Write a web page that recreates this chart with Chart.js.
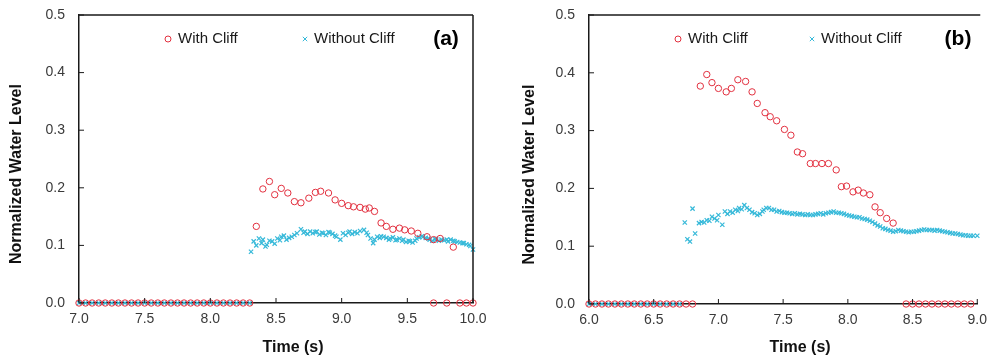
<!DOCTYPE html>
<html lang="en">
<head>
<meta charset="UTF-8">
<title>Normalized Water Level</title>
<script src="https://cdn.jsdelivr.net/npm/chart.js"></script>
<style>
  body { margin: 0; background: #fff; }
  .panel { position: absolute; top: 0; }
</style>
</head>
<body>
<div class="panel" style="left:0"><canvas id="chartA" width="497" height="359"></canvas></div>
<div class="panel" style="left:497px"><canvas id="chartB" width="498" height="359"></canvas></div>
<script>
// ---- panel (a) ----
const timeAWith = [7.00,7.05,7.10,7.15,7.20,7.25,7.30,7.35,7.40,7.45,7.50,7.55,7.60,7.65,7.70,7.75,7.80,7.85,7.90,7.95,8.00,8.05,8.10,8.15,8.20,8.25,8.30,
  8.35,8.40,8.45,8.49,8.54,8.59,8.64,8.69,8.75,8.80,8.84,8.90,8.95,9.00,9.05,9.09,9.14,9.18,9.21,9.25,9.30,9.34,9.39,9.44,9.48,9.53,9.58,9.65,9.70,9.75,9.85,
  9.70,9.80,9.90,9.95,10.00];
const levelAWith = [0,0,0,0,0,0,0,0,0,0,0,0,0,0,0,0,0,0,0,0,0,0,0,0,0,0,0,
  0.133,0.198,0.211,0.188,0.199,0.191,0.176,0.174,0.182,0.192,0.194,0.191,0.179,0.173,0.169,0.167,0.166,0.163,0.165,0.159,0.139,0.133,0.128,0.130,0.127,0.125,0.121,0.115,0.110,0.112,0.097,
  0,0,0,0,0];

const timeAWithout = [7.00,7.05,7.10,7.15,7.20,7.25,7.30,7.35,7.40,7.45,7.50,7.55,7.60,7.65,7.70,7.75,7.80,7.85,7.90,7.95,8.00,8.05,8.10,8.15,8.20,8.25,8.30,
  8.31,8.33,8.35,8.37,8.39,8.40,8.42,8.43,8.45,8.47,8.49,8.51,8.53,8.54,8.56,8.58,8.60,8.62,8.64,8.66,8.69,8.71,8.72,8.74,8.76,8.78,8.80,8.81,8.83,8.85,
  8.86,8.88,8.90,8.91,8.93,8.95,8.96,8.99,9.01,9.03,9.05,9.06,9.08,9.10,9.12,9.14,9.17,9.19,9.20,9.22,9.24,9.25,9.27,9.29,9.30,9.32,9.34,9.36,9.37,9.39,
  9.41,9.42,9.44,9.46,9.47,9.49,9.51,9.52,9.54,9.56,9.57,9.59,9.61,9.62,9.64,9.66,9.67,9.69,9.71,9.72,9.74,9.76,9.78,9.80,9.81,9.83,9.85,9.86,9.88,9.90,
  9.92,9.93,9.95,9.97,9.98,10.00];
const levelAWithout = [0,0,0,0,0,0,0,0,0,0,0,0,0,0,0,0,0,0,0,0,0,0,0,0,0,0,0,
  0.089,0.107,0.100,0.112,0.104,0.110,0.098,0.101,0.108,0.107,0.103,0.112,0.109,0.115,0.117,0.110,0.113,0.115,0.118,0.121,0.128,0.122,0.124,0.120,0.124,0.121,0.123,0.124,0.119,0.122,
  0.121,0.118,0.123,0.122,0.120,0.117,0.115,0.110,0.121,0.118,0.122,0.124,0.120,0.123,0.121,0.125,0.127,0.122,0.118,0.112,0.104,0.110,0.115,0.113,0.116,0.115,0.113,0.110,0.112,0.114,
  0.109,0.110,0.112,0.108,0.110,0.106,0.108,0.107,0.105,0.108,0.112,0.114,0.116,0.115,0.113,0.112,0.110,0.108,0.111,0.110,0.108,0.110,0.109,0.110,0.107,0.110,0.108,0.107,0.106,0.105,
  0.104,0.104,0.102,0.101,0.099,0.093];

// ---- panel (b) ----
const timeBWith = [6.00,6.05,6.10,6.15,6.20,6.25,6.30,6.35,6.40,6.45,6.50,6.55,6.60,6.65,6.70,6.75,6.80,
  6.86,6.91,6.95,7.00,7.06,7.10,7.15,7.21,7.26,7.30,7.36,7.40,7.45,7.51,7.56,7.61,7.65,7.71,7.75,7.80,7.85,7.91,7.95,7.99,8.04,8.08,8.12,8.17,8.21,8.25,8.30,8.35,
  8.45,8.50,8.55,8.60,8.65,8.70,8.75,8.80,8.85,8.90,8.95];
const levelBWith = [0,0,0,0,0,0,0,0,0,0,0,0,0,0,0,0,0,
  0.377,0.397,0.383,0.373,0.367,0.373,0.388,0.385,0.367,0.347,0.331,0.324,0.317,0.302,0.292,0.263,0.260,0.243,0.243,0.243,0.243,0.232,0.203,0.204,0.194,0.197,0.192,0.189,0.168,0.158,0.148,0.140,
  0,0,0,0,0,0,0,0,0,0,0];

const timeBWithout = [6.00,6.05,6.10,6.15,6.20,6.25,6.30,6.35,6.40,6.45,6.50,6.55,6.60,6.65,6.70,
  6.74,6.76,6.78,6.80,6.82,6.85,6.87,6.89,6.91,6.93,6.95,6.97,6.99,7.00,7.03,7.05,7.07,7.09,7.11,7.13,7.15,7.16,7.18,7.20,7.22,7.24,7.26,7.28,7.30,7.32,
  7.34,7.35,7.37,7.39,7.41,7.43,7.45,7.47,7.49,7.51,7.53,7.55,7.57,7.59,7.61,7.63,7.65,7.67,7.69,7.71,7.73,7.75,7.77,7.79,7.81,7.83,7.85,7.87,7.89,7.91,
  7.93,7.95,7.97,7.99,8.01,8.03,8.05,8.07,8.09,8.11,8.13,8.15,8.17,8.19,8.21,8.23,8.25,8.27,8.29,8.31,8.33,8.35,8.37,8.39,8.41,8.43,8.45,8.47,8.49,8.51,
  8.53,8.55,8.57,8.59,8.61,8.63,8.65,8.67,8.69,8.71,8.73,8.75,8.77,8.79,8.81,8.83,8.85,8.87,8.89,8.91,8.93,8.95,8.97,9.00];
const levelBWithout = [0,0,0,0,0,0,0,0,0,0,0,0,0,0,0,
  0.141,0.112,0.108,0.165,0.122,0.140,0.142,0.141,0.145,0.144,0.151,0.148,0.145,0.154,0.137,0.160,0.156,0.160,0.158,0.163,0.161,0.166,0.164,0.171,0.166,0.163,0.159,0.157,0.154,0.156,
  0.160,0.163,0.166,0.166,0.163,0.163,0.160,0.161,0.159,0.158,0.158,0.157,0.156,0.157,0.155,0.156,0.155,0.154,0.155,0.154,0.154,0.155,0.156,0.157,0.155,0.157,0.158,0.159,0.160,0.158,
  0.158,0.157,0.156,0.154,0.153,0.152,0.151,0.150,0.150,0.148,0.147,0.146,0.144,0.142,0.139,0.136,0.134,0.131,0.130,0.128,0.127,0.125,0.126,0.128,0.127,0.126,0.125,0.124,0.125,0.125,
  0.126,0.127,0.128,0.129,0.128,0.128,0.128,0.127,0.128,0.127,0.126,0.125,0.124,0.123,0.122,0.122,0.121,0.120,0.119,0.119,0.118,0.118,0.118,0.118];

const seriesNames = ['With Cliff', 'Without Cliff'];
const yTicks = [0, 0.1, 0.2, 0.3, 0.4, 0.5];

const RED = '#e2303f';
const CYAN = '#36b9d9';
const AXIS = '#1a1a1a';

function toPoints(times, levels) {
  return times.map((t, i) => ({ x: t, y: levels[i] }));
}

function drawMarker(ctx, style, x, y) {
  ctx.beginPath();
  if (style === 'circle') {
    ctx.strokeStyle = RED;
    ctx.arc(x, y, 3, 0, Math.PI * 2);
  } else {
    ctx.strokeStyle = CYAN;
    ctx.moveTo(x - 2.2, y - 2.2); ctx.lineTo(x + 2.2, y + 2.2);
    ctx.moveTo(x + 2.2, y - 2.2); ctx.lineTo(x - 2.2, y + 2.2);
  }
  ctx.stroke();
}

// frame, inward ticks, legend and titles
const decorPlugin = {
  id: 'decor',
  afterDraw(chart, args, opts) {
    const { ctx, chartArea: a, scales: { x, y } } = chart;
    ctx.save();
    ctx.strokeStyle = AXIS;
    ctx.lineWidth = 1.5;
    ctx.beginPath();
    ctx.moveTo(a.left, a.top);
    ctx.lineTo(a.right + opts.topExtend, a.top);
    if (opts.frameRight) {
      ctx.moveTo(a.right, a.top);
      ctx.lineTo(a.right, a.bottom);
    }
    ctx.stroke();

    ctx.lineWidth = 1;
    ctx.beginPath();
    x.ticks.forEach(t => {
      const px = x.getPixelForValue(t.value);
      ctx.moveTo(px, a.bottom); ctx.lineTo(px, a.bottom - 5);
    });
    y.ticks.forEach(t => {
      const py = y.getPixelForValue(t.value);
      ctx.moveTo(a.left, py); ctx.lineTo(a.left + 5, py);
    });
    ctx.stroke();

    // legend
    const ly = a.top + 24;
    ctx.lineWidth = 1;
    ctx.font = '15px Arial';
    ctx.fillStyle = '#1a1a1a';
    ctx.textBaseline = 'middle';
    ctx.textAlign = 'left';
    drawMarker(ctx, 'circle', a.left + opts.leg1, ly);
    ctx.fillText(seriesNames[0], a.left + opts.leg1 + 10, ly);
    drawMarker(ctx, 'crossRot', a.left + opts.leg2, ly);
    ctx.fillText(seriesNames[1], a.left + opts.leg2 + 9, ly);

    ctx.font = 'bold 21px Arial';
    ctx.textAlign = 'center';
    ctx.fillStyle = '#000';
    ctx.fillText(opts.label, a.left + opts.labelX, ly);

    // axis titles
    ctx.font = 'bold 16px Arial';
    ctx.fillStyle = '#111';
    ctx.fillText('Time (s)', (a.left + a.right) / 2 + 17, 348);
    ctx.translate(a.left - opts.yTitleOffset, (a.top + a.bottom) / 2 + 15);
    ctx.rotate(-Math.PI / 2);
    ctx.fillText('Normalized Water Level', 0, 0);
    ctx.restore();
  }
};

function makeChart(id, data1, data2, xMin, xMax, yWidth, xHeight, rightPad, decor) {
  return new Chart(document.getElementById(id), {
    type: 'scatter',
    data: {
      datasets: [
        {
          label: seriesNames[0], data: data1,
          pointStyle: 'circle', pointRadius: 3.2, pointBorderWidth: 1,
          pointBorderColor: RED, pointBackgroundColor: 'rgba(0,0,0,0)', clip: false
        },
        {
          label: seriesNames[1], data: data2,
          pointStyle: 'crossRot', pointRadius: 3, pointBorderWidth: 1.2,
          pointBorderColor: CYAN, pointBackgroundColor: CYAN, clip: false
        }
      ]
    },
    options: {
      responsive: false,
      animation: false,
      events: [],
      layout: { padding: { top: 15, right: rightPad, bottom: 0, left: 0 } },
      plugins: { legend: { display: false }, tooltip: { enabled: false }, decor: decor },
      scales: {
        x: {
          type: 'linear', min: xMin, max: xMax,
          grid: { display: false, drawTicks: false },
          border: { display: true, color: AXIS, width: 1.5 },
          ticks: { stepSize: 0.5, padding: 8, color: '#3a3a3a', font: { family: 'Arial', size: 14 },
                   callback: v => Number(v).toFixed(1) },
          afterFit: s => { s.height = xHeight; }
        },
        y: {
          min: 0, max: 0.5,
          grid: { display: false, drawTicks: false },
          border: { display: true, color: AXIS, width: 1.5 },
          afterBuildTicks: s => { s.ticks = yTicks.map(v => ({ value: v })); },
          ticks: { padding: 14, color: '#3a3a3a', font: { family: 'Arial', size: 14 },
                   callback: v => Number(v).toFixed(1) },
          // keep the label padding from pushing the plot top down
          afterFit: s => { s.width = yWidth; s.paddingTop = 0; s.paddingBottom = 0; }
        }
      }
    },
    plugins: [decorPlugin]
  });
}

makeChart('chartA', toPoints(timeAWith, levelAWith), toPoints(timeAWithout, levelAWithout),
  7, 10, 79, 56, 24,
  { frameRight: true, topExtend: 0, leg1: 89, leg2: 226, label: '(a)', labelX: 367, yTitleOffset: 62 });

makeChart('chartB', toPoints(timeBWith, levelBWith), toPoints(timeBWithout, levelBWithout),
  6, 9, 92, 55, 12,
  { frameRight: false, topExtend: 3, leg1: 89, leg2: 223, label: '(b)', labelX: 369, yTitleOffset: 59 });
</script>
</body>
</html>
